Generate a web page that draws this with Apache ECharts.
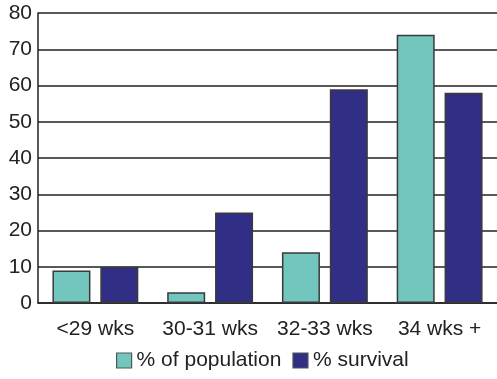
<!DOCTYPE html>
<html><head><meta charset="utf-8">
<script src="https://cdn.jsdelivr.net/npm/echarts@6/dist/echarts.min.js"></script>
<style>html,body{margin:0;padding:0;background:#fff}#c{width:497px;height:379px}</style>
</head><body><div id="c"></div>
<script>
var categories = ["<29 wks", "30-31 wks", "32-33 wks", "34 wks +"];
var population = [9, 3, 14, 74];
var survival = [10, 25, 59, 58];
var yTicks = [0, 80, 10];

var chart = echarts.init(document.getElementById('c'), null, {renderer: 'canvas'});
chart.setOption({
  animation: false,
  textStyle: {fontFamily: 'Liberation Sans, Arial, sans-serif'},
  grid: {left: 38, right: 0, top: 13, bottom: 76},
  legend: {
    top: 345, left: 111, itemWidth: 15, itemHeight: 15, itemGap: 11,
    textStyle: {fontSize: 21, color: '#222', fontFamily: 'Liberation Sans, Arial, sans-serif'},
    data: [
      {name: '% of population', icon: 'rect', itemStyle: {borderColor: '#555', borderWidth: 1.2}},
      {name: '% survival', icon: 'rect', itemStyle: {borderColor: '#555', borderWidth: 1.2}}
    ]
  },
  xAxis: {
    type: 'category', data: categories,
    axisLine: {lineStyle: {color: '#222', width: 1.5}},
    axisTick: {show: false},
    axisLabel: {fontSize: 21, color: '#222', margin: 16, interval: 0}
  },
  yAxis: {
    type: 'value', min: yTicks[0], max: yTicks[1], interval: yTicks[2],
    axisLine: {show: true, lineStyle: {color: '#222', width: 1.5}},
    axisTick: {show: false},
    axisLabel: {fontSize: 21, color: '#222', margin: 6},
    splitLine: {lineStyle: {color: '#222', width: 1.5}}
  },
  series: [
    {name: '% of population', type: 'bar', data: population, barWidth: 38, barGap: '26%',
     itemStyle: {color: '#72c6bd', borderColor: '#3a3a3a', borderWidth: 1.5}},
    {name: '% survival', type: 'bar', data: survival, barWidth: 38,
     itemStyle: {color: '#312e86', borderColor: '#3a3a3a', borderWidth: 1.5}}
  ]
});
</script></body></html>
